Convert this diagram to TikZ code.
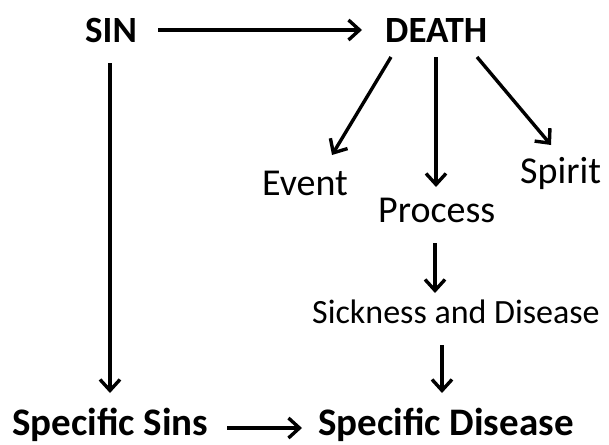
\documentclass[tikz,border=0pt]{standalone}
\usepackage{fontspec}
\setmainfont{Carlito}
\usetikzlibrary{arrows.meta}
\begin{document}
\begin{tikzpicture}[x=1pt,y=-1pt,
  lbl/.style={inner sep=0pt,anchor=base west},
  headbig/.style={lbl,font=\bfseries\fontsize{37}{40}\selectfont},
  headlow/.style={lbl,font=\bfseries\fontsize{39}{42}\selectfont},
  midtext/.style={lbl,font=\fontsize{38}{41}\selectfont},
  smalltext/.style={lbl,font=\fontsize{34}{37}\selectfont},
  link/.style={line width=3.4pt,-{Straight Barb[length=11pt,width=20pt,line width=3.4pt]}}]
\useasboundingbox (0,0) rectangle (609,444);

% labels
\node[headbig] (sin) at (85,42) {SIN};
\node[headbig] (death) at (385,42) {DEATH};
\node[midtext] (event) at (262,195) {Event};
\node[midtext] (spirit) at (520,183) {Spirit};
\node[midtext] (process) at (378,222) {Process};
\node[smalltext] (sick) at (312,323) {Sickness and Disease};
\node[headlow] (ssins) at (12,435) {Specific Sins};
\node[headlow] (sdis) at (318,435) {Specific Disease};

% connector ends
\coordinate (a1) at (158,30);  \coordinate (a2) at (362,30);
\coordinate (b1) at (110,63);  \coordinate (b2) at (110,393);
\coordinate (c1) at (391,57);  \coordinate (c2) at (332,155);
\coordinate (d1) at (436,57);  \coordinate (d2) at (436,187);
\coordinate (e1) at (477,57);  \coordinate (e2) at (551,145);
\coordinate (f1) at (435,243); \coordinate (f2) at (435,293);
\coordinate (g1) at (442,345); \coordinate (g2) at (442,393);
\coordinate (h1) at (227,428); \coordinate (h2) at (302,428);

\draw[link] (a1) -- (a2);
\draw[link] (b1) -- (b2);
\draw[link] (c1) -- (c2);
\draw[link] (d1) -- (d2);
\draw[link] (e1) -- (e2);
\draw[link] (f1) -- (f2);
\draw[link] (g1) -- (g2);
\draw[link] (h1) -- (h2);
\end{tikzpicture}
\end{document}
